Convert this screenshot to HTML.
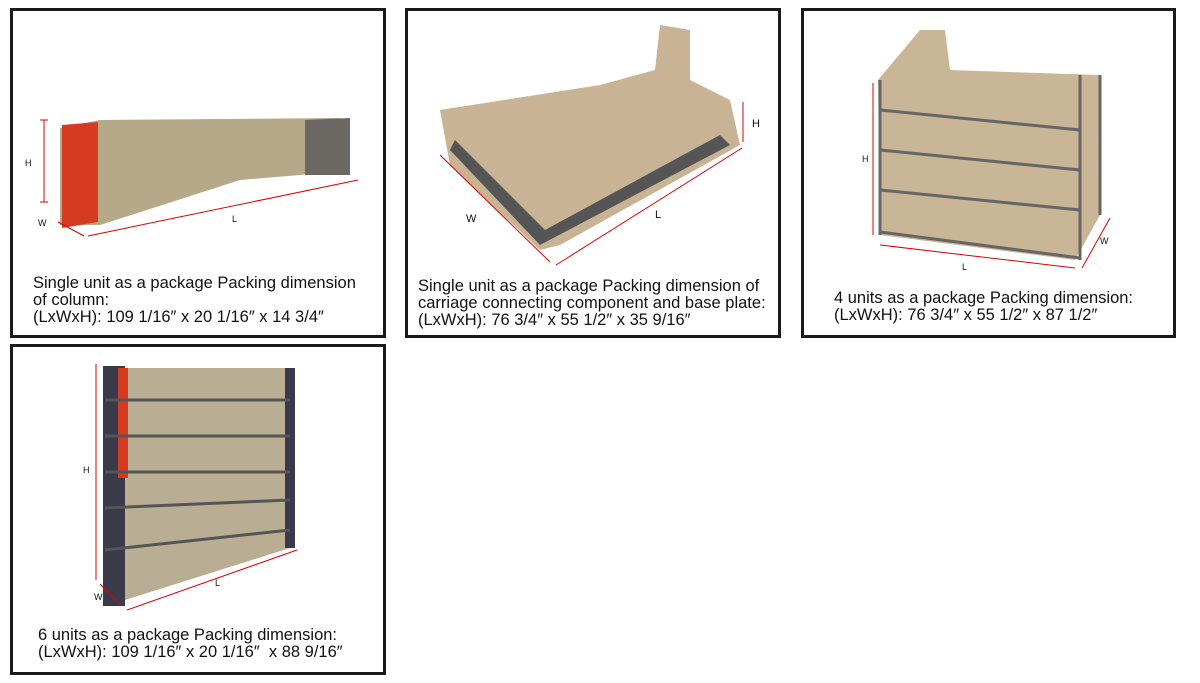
<!DOCTYPE html>
<html><head><meta charset="utf-8"><style>
body{margin:0;width:1200px;height:683px;background:#fff;position:relative;overflow:hidden;font-family:"Liberation Sans",Arial,sans-serif}
.box{position:absolute;border:3px solid #1a1a1a;box-sizing:border-box;background:#fff}
.t{position:absolute;font-size:16.5px;line-height:17px;color:#111;white-space:nowrap}
svg{position:absolute;left:0;top:0}
.s{font-size:9px;fill:#111;font-family:"Liberation Sans",sans-serif}
</style></head><body>
<div class="box" style="left:10px;top:8px;width:376px;height:330px"></div>
<div class="box" style="left:405px;top:8px;width:376px;height:330px"></div>
<div class="box" style="left:801px;top:8px;width:375px;height:330px"></div>
<div class="box" style="left:10px;top:344px;width:376px;height:331px"></div>
<svg width="1200" height="683">
<!-- box1 -->
<polygon points="60,128 100,120 340,118 350,125 350,170 300,175 240,180 100,225 60,225" fill="#b5a98a"/>
<polygon points="62,125 98,122 98,222 62,228" fill="#d63a20"/>
<polygon points="305,120 350,118 350,175 305,175" fill="#6b6864"/>
<line x1="44" y1="120" x2="44" y2="202" stroke="#d00" /><line x1="40" y1="120" x2="48" y2="120" stroke="#d00"/><line x1="40" y1="202" x2="48" y2="202" stroke="#d00"/>
<line x1="58" y1="222" x2="84" y2="236" stroke="#d00"/><line x1="88" y1="236" x2="358" y2="180" stroke="#d00"/>
<text class="s" x="25" y="166">H</text><text class="s" x="38" y="226">W</text><text class="s" x="232" y="222">L</text>
<!-- box2 -->
<polygon points="440,110 600,85 655,70 660,25 690,30 690,80 730,100 740,145 560,245 540,250 450,165" fill="#c8b495"/>
<polygon points="450,150 540,245 730,145 720,135 545,230 455,140" fill="#555"/>
<line x1="743" y1="102" x2="743" y2="142" stroke="#d00"/>
<line x1="440" y1="155" x2="550" y2="262" stroke="#d00"/><line x1="556" y1="265" x2="742" y2="148" stroke="#d00"/>
<text class="s" x="752" y="127" style="font-size:11px">H</text><text class="s" x="466" y="222" style="font-size:11px">W</text><text class="s" x="655" y="218" style="font-size:11px">L</text>
<!-- box3 -->
<polygon points="878,80 920,30 945,30 950,70 1100,75 1100,215 1075,260 880,235" fill="#c9b697"/>
<g stroke="#666" stroke-width="3"><line x1="880" y1="80" x2="880" y2="235"/><line x1="1080" y1="75" x2="1080" y2="260"/><line x1="1100" y1="75" x2="1100" y2="215"/>
<line x1="880" y1="110" x2="1080" y2="130"/><line x1="880" y1="150" x2="1080" y2="170"/><line x1="880" y1="190" x2="1080" y2="210"/><line x1="880" y1="232" x2="1080" y2="258"/></g>
<line x1="873" y1="83" x2="873" y2="235" stroke="#d00"/><line x1="880" y1="245" x2="1075" y2="268" stroke="#d00"/><line x1="1082" y1="268" x2="1110" y2="218" stroke="#d00"/>
<text class="s" x="862" y="162">H</text><text class="s" x="962" y="270">L</text><text class="s" x="1100" y="244">W</text>
<!-- box4 -->
<polygon points="105,368 290,368 290,548 125,600 105,580" fill="#b9ae93"/>
<g fill="#3a3a4a"><rect x="103" y="366" width="22" height="240"/><rect x="285" y="368" width="10" height="180"/></g>
<rect x="118" y="368" width="10" height="110" fill="#d63a20"/>
<g stroke="#555" stroke-width="3"><line x1="105" y1="400" x2="290" y2="400"/><line x1="105" y1="436" x2="290" y2="436"/><line x1="105" y1="472" x2="290" y2="472"/><line x1="105" y1="508" x2="290" y2="500"/><line x1="105" y1="550" x2="290" y2="530"/></g>
<line x1="96" y1="364" x2="96" y2="580" stroke="#d00"/><line x1="100" y1="584" x2="120" y2="605" stroke="#d00"/><line x1="127" y1="610" x2="297" y2="550" stroke="#d00"/>
<text class="s" x="83" y="473">H</text><text class="s" x="94" y="600">W</text><text class="s" x="215" y="586">L</text>
</svg>
<div class="t" style="left:33px;top:275px">Single unit as a package Packing dimension<br>of column:<br>(LxWxH): 109 1/16″ x 20 1/16″ x 14 3/4″</div>
<div class="t" style="left:418px;top:278px">Single unit as a package Packing dimension of<br>carriage connecting component and base plate:<br>(LxWxH): 76 3/4″ x 55 1/2″ x 35 9/16″</div>
<div class="t" style="left:834px;top:290px">4 units as a package Packing dimension:<br>(LxWxH): 76 3/4″ x 55 1/2″ x 87 1/2″</div>
<div class="t" style="left:38px;top:627px">6 units as a package Packing dimension:<br>(LxWxH): 109 1/16″ x 20 1/16″&nbsp; x 88 9/16″</div>
</body></html>
